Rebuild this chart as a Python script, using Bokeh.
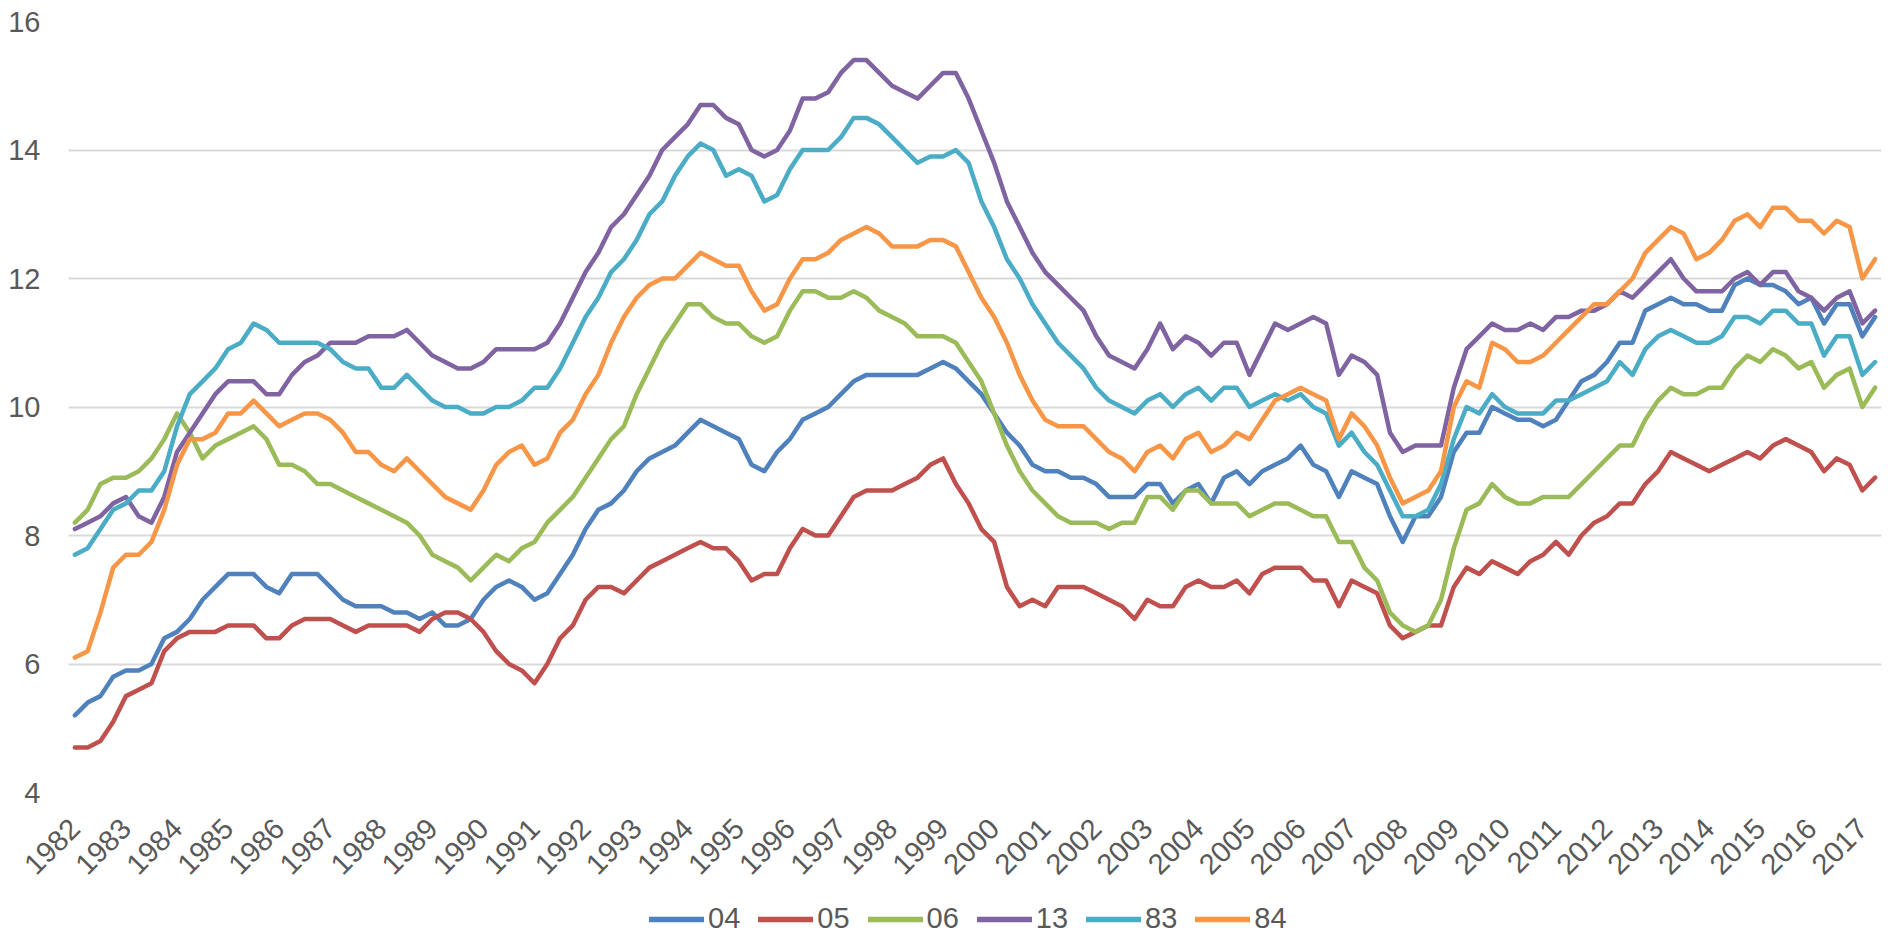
import math
from bokeh.plotting import figure
from bokeh.layouts import column
from bokeh.models import Range1d, FixedTicker, Legend, LegendItem
from bokeh.embed import file_html
from bokeh.resources import INLINE

# ---- data (quarterly, 1982 Q1 .. 2017 Q2) ----
year_labels = ["1982", "1983", "1984", "1985", "1986", "1987", "1988", "1989",
               "1990", "1991", "1992", "1993", "1994", "1995", "1996", "1997",
               "1998", "1999", "2000", "2001", "2002", "2003", "2004", "2005",
               "2006", "2007", "2008", "2009", "2010", "2011", "2012", "2013",
               "2014", "2015", "2016", "2017"]
y_ticks = [4, 6, 8, 10, 12, 14, 16]
series_names = ["04", "05", "06", "13", "83", "84"]

s04 = [5.2, 5.4, 5.5, 5.8, 5.9, 5.9, 6.0, 6.4, 6.5, 6.7, 7.0, 7.2, 7.4, 7.4, 7.4, 7.2, 7.1, 7.4, 7.4, 7.4, 7.2, 7.0, 6.9, 6.9, 6.9, 6.8, 6.8, 6.7,
       6.8, 6.6, 6.6, 6.7, 7.0, 7.2, 7.3, 7.2, 7.0, 7.1, 7.4, 7.7, 8.1, 8.4, 8.5, 8.7, 9.0, 9.2, 9.3, 9.4, 9.6, 9.8, 9.7, 9.6, 9.5, 9.1, 9.0, 9.3, 9.5, 9.8,
       9.9, 10.0, 10.2, 10.4, 10.5, 10.5, 10.5, 10.5, 10.5, 10.6, 10.7, 10.6, 10.4, 10.2, 9.9, 9.6, 9.4, 9.1, 9.0, 9.0, 8.9, 8.9, 8.8, 8.6, 8.6, 8.6, 8.8, 8.8, 8.5,
       8.7, 8.8, 8.5, 8.9, 9.0, 8.8, 9.0, 9.1, 9.2, 9.4, 9.1, 9.0, 8.6, 9.0, 8.9, 8.8, 8.3, 7.9, 8.3, 8.3, 8.6, 9.3, 9.6, 9.6, 10.0, 9.9, 9.8, 9.8, 9.7, 9.8,
       10.1, 10.4, 10.5, 10.7, 11.0, 11.0, 11.5, 11.6, 11.7, 11.6, 11.6, 11.5, 11.5, 11.9, 12.0, 11.9, 11.9, 11.8, 11.6, 11.7, 11.3, 11.6, 11.6, 11.1, 11.4]

s05 = [4.7, 4.7, 4.8, 5.1, 5.5, 5.6, 5.7, 6.2, 6.4, 6.5, 6.5, 6.5, 6.6, 6.6, 6.6, 6.4, 6.4, 6.6, 6.7, 6.7, 6.7, 6.6, 6.5, 6.6, 6.6, 6.6, 6.6, 6.5,
       6.7, 6.8, 6.8, 6.7, 6.5, 6.2, 6.0, 5.9, 5.7, 6.0, 6.4, 6.6, 7.0, 7.2, 7.2, 7.1, 7.3, 7.5, 7.6, 7.7, 7.8, 7.9, 7.8, 7.8, 7.6, 7.3, 7.4, 7.4, 7.8, 8.1,
       8.0, 8.0, 8.3, 8.6, 8.7, 8.7, 8.7, 8.8, 8.9, 9.1, 9.2, 8.8, 8.5, 8.1, 7.9, 7.2, 6.9, 7.0, 6.9, 7.2, 7.2, 7.2, 7.1, 7.0, 6.9, 6.7, 7.0, 6.9, 6.9,
       7.2, 7.3, 7.2, 7.2, 7.3, 7.1, 7.4, 7.5, 7.5, 7.5, 7.3, 7.3, 6.9, 7.3, 7.2, 7.1, 6.6, 6.4, 6.5, 6.6, 6.6, 7.2, 7.5, 7.4, 7.6, 7.5, 7.4, 7.6, 7.7, 7.9,
       7.7, 8.0, 8.2, 8.3, 8.5, 8.5, 8.8, 9.0, 9.3, 9.2, 9.1, 9.0, 9.1, 9.2, 9.3, 9.2, 9.4, 9.5, 9.4, 9.3, 9.0, 9.2, 9.1, 8.7, 8.9]

s06 = [8.2, 8.4, 8.8, 8.9, 8.9, 9.0, 9.2, 9.5, 9.9, 9.6, 9.2, 9.4, 9.5, 9.6, 9.7, 9.5, 9.1, 9.1, 9.0, 8.8, 8.8, 8.7, 8.6, 8.5, 8.4, 8.3, 8.2, 8.0,
       7.7, 7.6, 7.5, 7.3, 7.5, 7.7, 7.6, 7.8, 7.9, 8.2, 8.4, 8.6, 8.9, 9.2, 9.5, 9.7, 10.2, 10.6, 11.0, 11.3, 11.6, 11.6, 11.4, 11.3, 11.3, 11.1, 11.0, 11.1, 11.5, 11.8,
       11.8, 11.7, 11.7, 11.8, 11.7, 11.5, 11.4, 11.3, 11.1, 11.1, 11.1, 11.0, 10.7, 10.4, 9.9, 9.4, 9.0, 8.7, 8.5, 8.3, 8.2, 8.2, 8.2, 8.1, 8.2, 8.2, 8.6, 8.6, 8.4,
       8.7, 8.7, 8.5, 8.5, 8.5, 8.3, 8.4, 8.5, 8.5, 8.4, 8.3, 8.3, 7.9, 7.9, 7.5, 7.3, 6.8, 6.6, 6.5, 6.6, 7.0, 7.8, 8.4, 8.5, 8.8, 8.6, 8.5, 8.5, 8.6, 8.6,
       8.6, 8.8, 9.0, 9.2, 9.4, 9.4, 9.8, 10.1, 10.3, 10.2, 10.2, 10.3, 10.3, 10.6, 10.8, 10.7, 10.9, 10.8, 10.6, 10.7, 10.3, 10.5, 10.6, 10.0, 10.3]

s13 = [8.1, 8.2, 8.3, 8.5, 8.6, 8.3, 8.2, 8.6, 9.3, 9.6, 9.9, 10.2, 10.4, 10.4, 10.4, 10.2, 10.2, 10.5, 10.7, 10.8, 11.0, 11.0, 11.0, 11.1, 11.1, 11.1, 11.2, 11.0,
       10.8, 10.7, 10.6, 10.6, 10.7, 10.9, 10.9, 10.9, 10.9, 11.0, 11.3, 11.7, 12.1, 12.4, 12.8, 13.0, 13.3, 13.6, 14.0, 14.2, 14.4, 14.7, 14.7, 14.5, 14.4, 14.0, 13.9, 14.0, 14.3, 14.8,
       14.8, 14.9, 15.2, 15.4, 15.4, 15.2, 15.0, 14.9, 14.8, 15.0, 15.2, 15.2, 14.8, 14.3, 13.8, 13.2, 12.8, 12.4, 12.1, 11.9, 11.7, 11.5, 11.1, 10.8, 10.7, 10.6, 10.9, 11.3, 10.9,
       11.1, 11.0, 10.8, 11.0, 11.0, 10.5, 10.9, 11.3, 11.2, 11.3, 11.4, 11.3, 10.5, 10.8, 10.7, 10.5, 9.6, 9.3, 9.4, 9.4, 9.4, 10.3, 10.9, 11.1, 11.3, 11.2, 11.2, 11.3, 11.2, 11.4,
       11.4, 11.5, 11.5, 11.6, 11.8, 11.7, 11.9, 12.1, 12.3, 12.0, 11.8, 11.8, 11.8, 12.0, 12.1, 11.9, 12.1, 12.1, 11.8, 11.7, 11.5, 11.7, 11.8, 11.3, 11.5]

s83 = [7.7, 7.8, 8.1, 8.4, 8.5, 8.7, 8.7, 9.0, 9.7, 10.2, 10.4, 10.6, 10.9, 11.0, 11.3, 11.2, 11.0, 11.0, 11.0, 11.0, 10.9, 10.7, 10.6, 10.6, 10.3, 10.3, 10.5, 10.3,
       10.1, 10.0, 10.0, 9.9, 9.9, 10.0, 10.0, 10.1, 10.3, 10.3, 10.6, 11.0, 11.4, 11.7, 12.1, 12.3, 12.6, 13.0, 13.2, 13.6, 13.9, 14.1, 14.0, 13.6, 13.7, 13.6, 13.2, 13.3, 13.7, 14.0,
       14.0, 14.0, 14.2, 14.5, 14.5, 14.4, 14.2, 14.0, 13.8, 13.9, 13.9, 14.0, 13.8, 13.2, 12.8, 12.3, 12.0, 11.6, 11.3, 11.0, 10.8, 10.6, 10.3, 10.1, 10.0, 9.9, 10.1, 10.2, 10.0,
       10.2, 10.3, 10.1, 10.3, 10.3, 10.0, 10.1, 10.2, 10.1, 10.2, 10.0, 9.9, 9.4, 9.6, 9.3, 9.1, 8.7, 8.3, 8.3, 8.4, 8.8, 9.5, 10.0, 9.9, 10.2, 10.0, 9.9, 9.9, 9.9, 10.1,
       10.1, 10.2, 10.3, 10.4, 10.7, 10.5, 10.9, 11.1, 11.2, 11.1, 11.0, 11.0, 11.1, 11.4, 11.4, 11.3, 11.5, 11.5, 11.3, 11.3, 10.8, 11.1, 11.1, 10.5, 10.7]

s84 = [6.1, 6.2, 6.8, 7.5, 7.7, 7.7, 7.9, 8.4, 9.1, 9.5, 9.5, 9.6, 9.9, 9.9, 10.1, 9.9, 9.7, 9.8, 9.9, 9.9, 9.8, 9.6, 9.3, 9.3, 9.1, 9.0, 9.2, 9.0,
       8.8, 8.6, 8.5, 8.4, 8.7, 9.1, 9.3, 9.4, 9.1, 9.2, 9.6, 9.8, 10.2, 10.5, 11.0, 11.4, 11.7, 11.9, 12.0, 12.0, 12.2, 12.4, 12.3, 12.2, 12.2, 11.8, 11.5, 11.6, 12.0, 12.3,
       12.3, 12.4, 12.6, 12.7, 12.8, 12.7, 12.5, 12.5, 12.5, 12.6, 12.6, 12.5, 12.1, 11.7, 11.4, 11.0, 10.5, 10.1, 9.8, 9.7, 9.7, 9.7, 9.5, 9.3, 9.2, 9.0, 9.3, 9.4, 9.2,
       9.5, 9.6, 9.3, 9.4, 9.6, 9.5, 9.8, 10.1, 10.2, 10.3, 10.2, 10.1, 9.5, 9.9, 9.7, 9.4, 8.9, 8.5, 8.6, 8.7, 9.0, 10.0, 10.4, 10.3, 11.0, 10.9, 10.7, 10.7, 10.8, 11.0,
       11.2, 11.4, 11.6, 11.6, 11.8, 12.0, 12.4, 12.6, 12.8, 12.7, 12.3, 12.4, 12.6, 12.9, 13.0, 12.8, 13.1, 13.1, 12.9, 12.9, 12.7, 12.9, 12.8, 12.0, 12.3]

series_values = [s04, s05, s06, s13, s83, s84]
colors = ["#4F81BD", "#C0504D", "#9BBB59", "#8064A2", "#4BACC6", "#F79646"]

FONT = "Liberation Sans"
TEXT = "#595959"
FS = "29px"
LW = 4.5

n = len(s04)
p = figure(width=1886, height=893, output_backend="svg", toolbar_location=None,
           x_range=Range1d(-0.5, n - 0.5), y_range=Range1d(y_ticks[0], y_ticks[-1]),
           min_border_left=68, min_border_right=5, min_border_top=21, min_border_bottom=101)
p.outline_line_color = None
p.background_fill_color = "white"
p.border_fill_color = "white"

for vals, col in zip(series_values, colors):
    p.line(list(range(len(vals))), vals, line_color=col, line_width=LW,
           line_join="round", line_cap="round")

# x axis: one label per year (every 4th quarter)
tick_pos = [4 * i for i in range(len(year_labels))]
p.xaxis.ticker = FixedTicker(ticks=tick_pos)
p.xaxis.major_label_overrides = {t: lab for t, lab in zip(tick_pos, year_labels)}
p.xaxis.major_label_orientation = math.pi / 4
p.xaxis.major_label_standoff = 31
p.xaxis.axis_line_color = None
p.xaxis.major_tick_line_color = None
p.xaxis.minor_tick_line_color = None
p.xaxis.major_tick_out = 0
p.xaxis.major_label_text_font = FONT
p.xaxis.major_label_text_font_size = FS
p.xaxis.major_label_text_color = TEXT

p.yaxis.ticker = FixedTicker(ticks=y_ticks)
p.yaxis.major_label_standoff = 28
p.yaxis.axis_line_color = None
p.yaxis.major_tick_line_color = None
p.yaxis.minor_tick_line_color = None
p.yaxis.major_tick_out = 0
p.yaxis.major_label_text_font = FONT
p.yaxis.major_label_text_font_size = FS
p.yaxis.major_label_text_color = TEXT

p.xgrid.grid_line_color = None
p.ygrid.grid_line_color = "#D9D9D9"
p.ygrid.grid_line_width = 2

# ---- legend strip below the chart (its series lie outside its view) ----
lf = figure(width=1886, height=42, output_backend="svg", toolbar_location=None,
            x_range=Range1d(0, 1), y_range=Range1d(0, 1),
            x_axis_type=None, y_axis_type=None, min_border=0)
lf.outline_line_color = None
lf.grid.visible = False
items = []
for name, vals, col in zip(series_names, series_values, colors):
    r = lf.line(list(range(len(vals))), vals, line_color=col, line_width=5.5, line_cap="round")
    items.append(LegendItem(label=name, renderers=[r]))
legend = Legend(items=items, orientation="horizontal", location=(581, 0),
                glyph_width=55, glyph_height=20, label_standoff=4, spacing=18,
                padding=0, margin=0, border_line_color=None, background_fill_alpha=0,
                label_text_font=FONT, label_text_font_size=FS, label_text_color=TEXT)
lf.add_layout(legend, "center")

root = column(p, lf, spacing=0)
open("out.html", "w").write(file_html(root, INLINE))
